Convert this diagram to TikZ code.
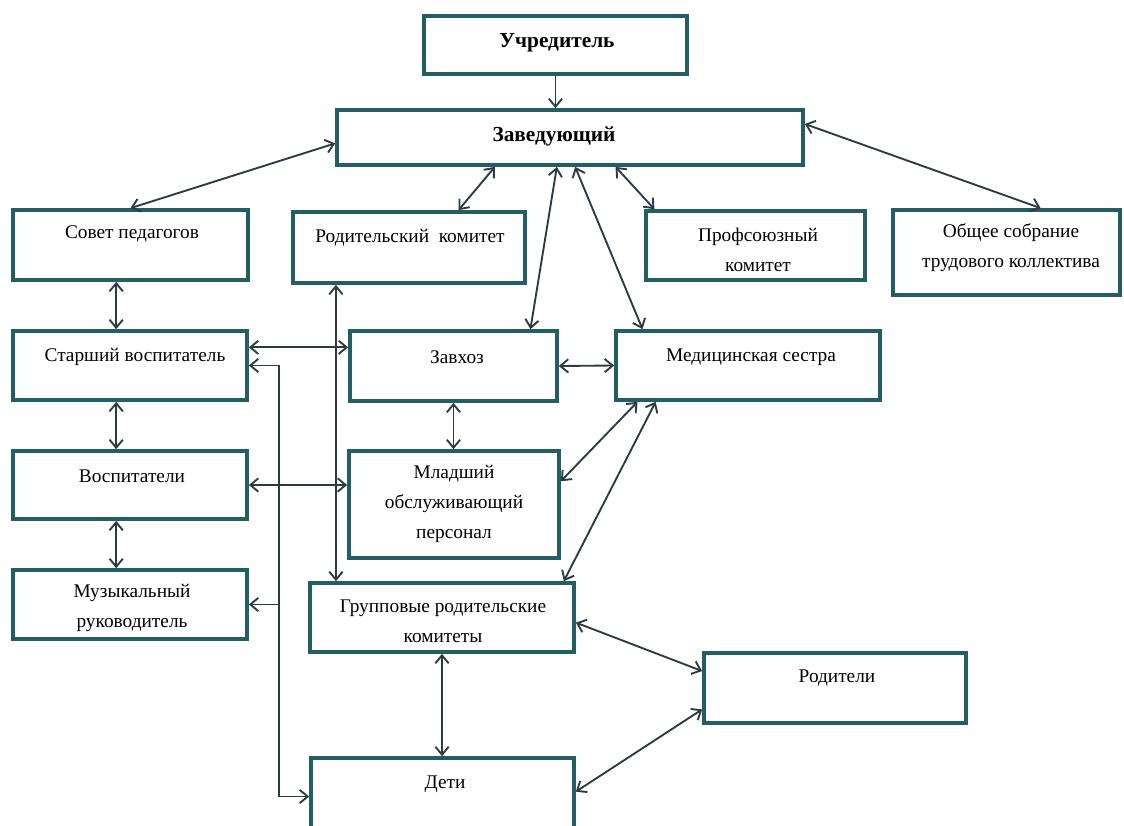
\documentclass[tikz,border=0pt]{standalone}
\usepackage{fontspec}
\setmainfont{Liberation Serif}
\usetikzlibrary{calc,arrows.meta}

\definecolor{boxcol}{HTML}{235E63}
\definecolor{linecol}{HTML}{2C3A42}

\begin{document}
\begin{tikzpicture}[x=0.75pt,y=-0.75pt,
  box/.style={draw=boxcol,line width=2.8pt,inner sep=0pt},
  txt/.style={font=\fontsize{14.5}{22.5}\selectfont,align=center,inner sep=0pt},
  head/.style={font=\fontsize{16}{20}\selectfont\bfseries,inner sep=0pt},
  link/.style={draw=linecol,line width=1.4pt,{Straight Barb[length=6pt,width=10pt]}-{Straight Barb[length=6pt,width=10pt]}},
  oneway/.style={draw=linecol,line width=1.4pt,-{Straight Barb[length=6pt,width=10pt]}}]

\clip (0,0) rectangle (1124,825);   %page size in px
\fill[white] (0,0) rectangle (1124,825);

% Head
\node[box,minimum width=197pt,minimum height=43.5pt] (uchr) at (555.5,45) {};
\node[head] (uchrT) at (557,43) {Учредитель};
\node[box,minimum width=349.5pt,minimum height=41.25pt] (zav) at (570,137.5) {};
\node[head] (zavT) at (554,136) {Заведующий};

% Second row
\node[box,minimum width=176pt,minimum height=52.5pt] (sovet) at (130.5,245) {};
\node[txt] (sovetT) at (132,234) {Совет педагогов};
\node[box,minimum width=174pt,minimum height=53.25pt] (rodkom) at (409,247.5) {};
\node[txt] (rodkomT) at (410,238) {Родительский\ \ комитет};
\node[box,minimum width=164.25pt,minimum height=51.75pt] (prof) at (755.5,245.5) {};
\node[txt] (profT) at (758,249.5) {Профсоюзный\\комитет};
\node[box,minimum width=170.25pt,minimum height=63.75pt] (obsh) at (1006.5,252.5) {};
\node[txt] (obshT) at (1011,248) {Общее собрание\\трудового коллектива};

% Third row
\node[box,minimum width=175.5pt,minimum height=51.75pt] (starsh) at (130,365.5) {};
\node[txt] (starshT) at (135,357) {Старший воспитатель};
\node[box,minimum width=155.25pt,minimum height=52.5pt] (zavhoz) at (453.5,366) {};
\node[txt] (zavhozT) at (457,357) {Завхоз};
\node[box,minimum width=198pt,minimum height=51.75pt] (med) at (748,365.5) {};
\node[txt] (medT) at (751,357) {Медицинская сестра};

% Fourth row
\node[box,minimum width=175.5pt,minimum height=51pt] (vosp) at (130,485) {};
\node[txt] (vospT) at (132,476) {Воспитатели};
\node[box,minimum width=157.5pt,minimum height=80.25pt] (mlad) at (454,504.5) {};
\node[txt] (mladT) at (454,504) {Младший\\обслуживающий\\персонал};

% Lower part
\node[box,minimum width=175.5pt,minimum height=51.75pt] (muz) at (130,604.5) {};
\node[txt] (muzT) at (132,608) {Музыкальный\\руководитель};
\node[box,minimum width=198pt,minimum height=51.75pt] (grup) at (442,617.5) {};
\node[txt] (grupT) at (443,621) {Групповые родительские\\комитеты};
\node[box,minimum width=196.5pt,minimum height=52.5pt] (rod) at (835,688) {};
\node[txt] (rodT) at (837,678) {Родители};
\node[box,minimum width=197.25pt,minimum height=57.75pt] (deti) at (442.5,796.5) {};
\node[txt] (detiT) at (445,784) {Дети};

% Links from the head
\draw[oneway] (uchr.south) -- (uchr.south |- zav.north);
\draw[link] ($(zav.north west)!0.6!(zav.south west)$) -- (sovet.north);
\draw[link] ($(zav.south west)!0.34!(zav.south east)$) -- ($(rodkom.north west)!0.71!(rodkom.north east)$);
\draw[link] ($(zav.south west)!0.472!(zav.south east)$) -- ($(zavhoz.north west)!0.865!(zavhoz.north east)$);
\draw[link] ($(zav.south west)!0.511!(zav.south east)$) -- ($(med.north west)!0.106!(med.north east)$);
\draw[link] ($(zav.south west)!0.597!(zav.south east)$) -- ($(prof.north west)!0.046!(prof.north east)$);
\draw[link] ($(zav.north east)!0.27!(zav.south east)$) -- ($(obsh.north west)!0.648!(obsh.north east)$);

% Left column
\coordinate (lx) at ($(sovet.south west)!0.44!(sovet.south east)$);
\draw[link] (lx) -- (lx |- starsh.north);
\draw[link] (lx |- starsh.south) -- (lx |- vosp.north);
\draw[link] (lx |- vosp.south) -- (lx |- muz.north);

% Horizontal links
\coordinate (sz) at ($(starsh.north east)!0.25!(starsh.south east)$);
\draw[link] (sz) -- (sz -| zavhoz.west);
\draw[link] (zavhoz.east) -- (med.west);
\draw[link] (vosp.east) -- (vosp.east -| mlad.west);
\draw[link] (zavhoz.south) -- (zavhoz.south |- mlad.north);

% Parents committee line
\coordinate (rx) at ($(rodkom.south west)!0.19!(rodkom.south east)$);
\draw[link] (rx) -- (rx |- grup.north);

% Nurse links
\draw[link] ($(med.south west)!0.087!(med.south east)$) -- ($(mlad.north east)!0.29!(mlad.south east)$);
\draw[link] ($(med.south west)!0.155!(med.south east)$) -- ($(grup.north west)!0.955!(grup.north east)$);

% Parents and children
\draw[link] ($(grup.north east)!0.57!(grup.south east)$) -- ($(rod.north west)!0.27!(rod.south west)$);
\draw[link] ($(rod.north west)!0.79!(rod.south west)$) -- ($(deti.north east)!0.44!(deti.south east)$);
\draw[link] (grup.south) -- (grup.south |- deti.north);

% Bus line on the left
\coordinate (bus) at (279,0);
\draw[link] (starsh.east) -- (starsh.east -| bus) -- (bus |- deti.west) -- (deti.west);
\draw[oneway] (muz.east -| bus) -- (muz.east);

\end{tikzpicture}
\end{document}
